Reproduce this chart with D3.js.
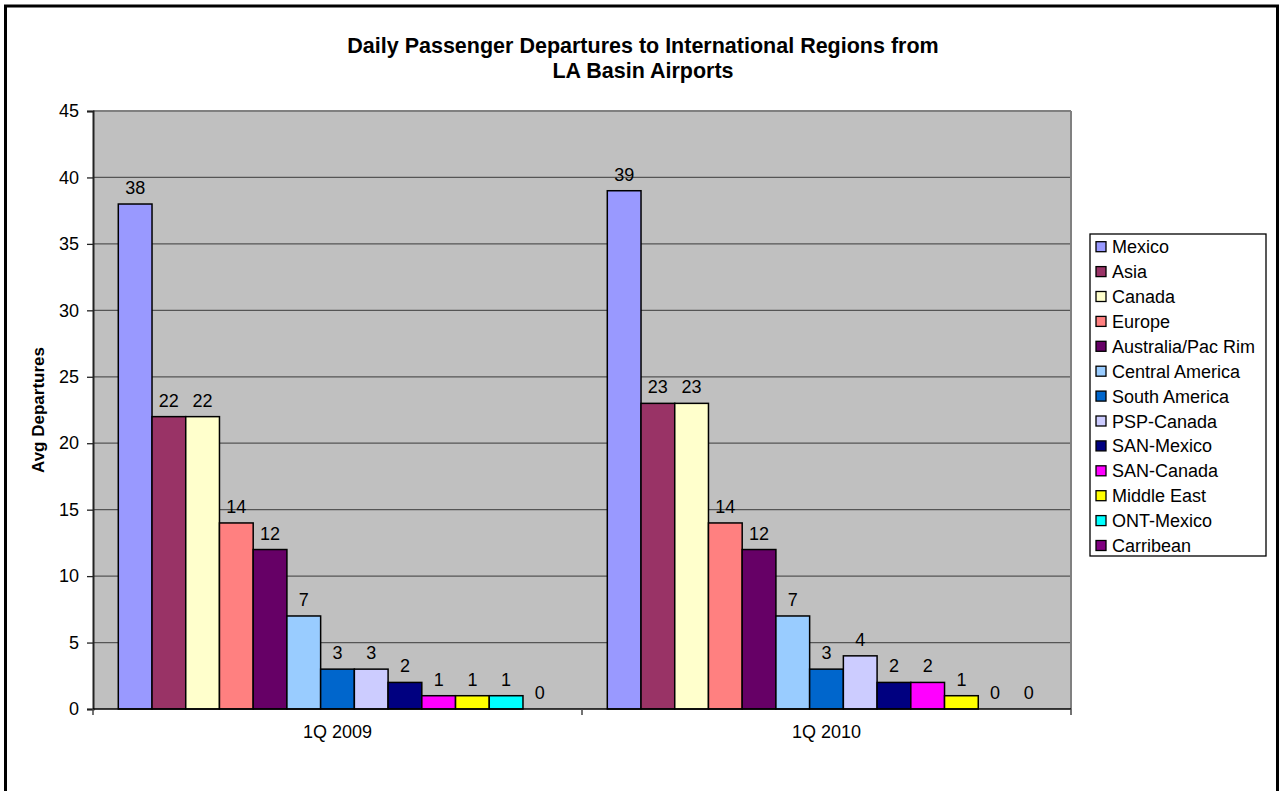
<!DOCTYPE html>
<html>
<head>
<meta charset="utf-8">
<script src="https://cdn.jsdelivr.net/npm/d3@7"></script>
<style>
  body { margin: 0; background: #fff; }
  svg text { font-family: Arial, "Liberation Sans", sans-serif; fill: #000; }
</style>
</head>
<body>
<div id="chart"></div>
<script>
// data
var categories = ["1Q 2009", "1Q 2010"];
var seriesNames = ["Mexico", "Asia", "Canada", "Europe", "Australia/Pac Rim", "Central America",
  "South America", "PSP-Canada", "SAN-Mexico", "SAN-Canada", "Middle East", "ONT-Mexico", "Carribean"];
var seriesColors = ["#9999FF", "#993366", "#FFFFCC", "#FF8080", "#660066", "#99CCFF",
  "#0066CC", "#CCCCFF", "#000080", "#FF00FF", "#FFFF00", "#00FFFF", "#800080"];
var values2009 = [38, 22, 22, 14, 12, 7, 3, 3, 2, 1, 1, 1, 0];
var values2010 = [39, 23, 23, 14, 12, 7, 3, 4, 2, 2, 1, 0, 0];
var yTicks = [0, 5, 10, 15, 20, 25, 30, 35, 40, 45];

var chartTitle = ["Daily Passenger Departures to International Regions from", "LA Basin Airports"];
var yTitle = "Avg Departures";

var W = 1282, H = 791;
var margin = {top: 111, right: 211, bottom: 82, left: 93};
var width = W - margin.left - margin.right;
var height = H - margin.top - margin.bottom;

var svg = d3.select("#chart")
  .append("svg")
    .attr("width", W)
    .attr("height", H);

// outer frame (runs off the bottom of the picture)
svg.append("rect")
  .attr("x", 5.5).attr("y", 6)
  .attr("width", 1272).attr("height", 820)
  .attr("fill", "none")
  .attr("stroke", "#000")
  .attr("stroke-width", 3);

// title
svg.append("g").selectAll("text")
  .data(chartTitle)
  .enter().append("text")
    .attr("x", 643)
    .attr("y", function(d, i) { return 53 + i * 25; })
    .attr("text-anchor", "middle")
    .style("font-size", "21.5px")
    .style("font-weight", "bold")
    .text(function(d) { return d; });

var g = svg.append("g")
  .attr("transform", "translate(" + margin.left + "," + margin.top + ")");

var x0 = d3.scaleBand()
  .domain(categories)
  .range([0, width])
  .padding(0);

var x1 = d3.scaleBand()
  .domain(seriesNames)
  .range([0, x0.bandwidth()])
  .paddingInner(0)
  .paddingOuter(0.75);

var y = d3.scaleLinear()
  .domain([0, 45])
  .range([height, 0]);

var color = d3.scaleOrdinal().domain(seriesNames).range(seriesColors);

// plot background
g.append("rect")
  .attr("width", width)
  .attr("height", height)
  .attr("fill", "#C0C0C0");

// gridlines (the top one doubles as plot border)
g.append("g").selectAll("line")
  .data(yTicks.filter(function(d) { return d > 0; }))
  .enter().append("line")
    .attr("x1", 0).attr("x2", width)
    .attr("y1", function(d) { return y(d); })
    .attr("y2", function(d) { return y(d); })
    .attr("stroke", function(d) { return d === 45 ? "#808080" : "#555"; })
    .attr("stroke-width", function(d) { return d === 45 ? 2 : 1.3; });

// right border of plot
g.append("line")
  .attr("x1", width).attr("x2", width)
  .attr("y1", 0).attr("y2", height)
  .attr("stroke", "#808080")
  .attr("stroke-width", 2);

// build table for bars
var table = categories.map(function(c, ci) {
  var vals = ci === 0 ? values2009 : values2010;
  return {cat: c, items: seriesNames.map(function(s, si) { return {name: s, value: vals[si]}; })};
});

var groups = g.selectAll(".cat")
  .data(table)
  .enter().append("g")
    .attr("class", "cat")
    .attr("transform", function(d) { return "translate(" + x0(d.cat) + ",0)"; });

groups.selectAll("rect")
  .data(function(d) { return d.items.filter(function(e) { return e.value > 0; }); })
  .enter().append("rect")
    .attr("x", function(d) { return x1(d.name); })
    .attr("y", function(d) { return y(d.value); })
    .attr("width", x1.bandwidth())
    .attr("height", function(d) { return height - y(d.value); })
    .attr("fill", function(d) { return color(d.name); })
    .attr("stroke", "#000")
    .attr("stroke-width", 1.5);

// value labels
groups.selectAll("text")
  .data(function(d) { return d.items; })
  .enter().append("text")
    .attr("x", function(d) { return x1(d.name) + x1.bandwidth() / 2; })
    .attr("y", function(d) { return y(d.value) - 10; })
    .attr("text-anchor", "middle")
    .style("font-size", "18px")
    .text(function(d) { return d.value; });

// y axis
var yAxis = g.append("g")
  .call(d3.axisLeft(y).tickValues(yTicks).tickSize(6).tickPadding(8));
yAxis.select(".domain").attr("stroke", "#222").attr("stroke-width", 2);
yAxis.selectAll(".tick line").attr("stroke", "#222").attr("stroke-width", 1.3);
yAxis.selectAll("text").style("font-size", "18px").attr("fill", "#000");

// x axis
var xAxisG = g.append("g")
  .attr("transform", "translate(0," + height + ")");
xAxisG.append("line")
  .attr("x1", 0).attr("x2", width)
  .attr("stroke", "#000").attr("stroke-width", 1.5);
xAxisG.selectAll(".xt")
  .data([0].concat(categories.map(function(c) { return x0(c) + x0.bandwidth(); })))
  .enter().append("line")
    .attr("class", "xt")
    .attr("x1", function(d) { return d; })
    .attr("x2", function(d) { return d; })
    .attr("y1", 0).attr("y2", 6)
    .attr("stroke", "#444").attr("stroke-width", 1.5);
xAxisG.selectAll(".xl")
  .data(categories)
  .enter().append("text")
    .attr("class", "xl")
    .attr("x", function(d) { return x0(d) + x0.bandwidth() / 2; })
    .attr("y", 29)
    .attr("text-anchor", "middle")
    .style("font-size", "18px")
    .text(function(d) { return d; });

// y axis title
svg.append("text")
  .attr("transform", "translate(44,410) rotate(-90)")
  .attr("text-anchor", "middle")
  .style("font-size", "17px")
  .style("font-weight", "bold")
  .text(yTitle);

// legend
var legend = svg.append("g")
  .attr("transform", "translate(1090,234)");
legend.append("rect")
  .attr("width", 176).attr("height", 322)
  .attr("fill", "#fff")
  .attr("stroke", "#000")
  .attr("stroke-width", 1.3);

var item = legend.selectAll(".item")
  .data(seriesNames)
  .enter().append("g")
    .attr("class", "item")
    .attr("transform", function(d, i) { return "translate(0," + (12.7 + i * 24.9) + ")"; });
item.append("rect")
  .attr("x", 6).attr("y", -5)
  .attr("width", 10).attr("height", 10)
  .attr("fill", function(d) { return color(d); })
  .attr("stroke", "#000")
  .attr("stroke-width", 1.3);
item.append("text")
  .attr("x", 22)
  .attr("y", 6.5)
  .style("font-size", "18px")
  .text(function(d) { return d; });
</script>
</body>
</html>
